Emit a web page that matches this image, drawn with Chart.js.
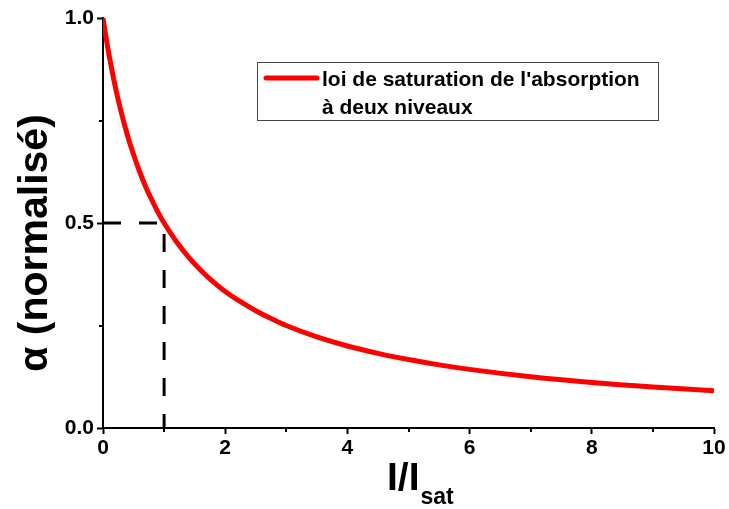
<!DOCTYPE html>
<html>
<head>
<meta charset="utf-8">
<script src="https://cdn.jsdelivr.net/npm/chart.js@4"></script>
<style>
  html, body { margin: 0; padding: 0; background: #fff; }
  #wrap { width: 729px; height: 509px; }
</style>
</head>
<body>
<div id="wrap"><canvas id="chart"></canvas></div>
<script>
/* Saturation de l'absorption — alpha normalisé vs I/Isat */

const X_VALUES = [0, 0.05, 0.1, 0.15, 0.2, 0.3, 0.4, 0.5, 0.6, 0.7, 0.8, 0.9, 1, 1.2, 1.4, 1.6, 1.8, 2, 2.25, 2.5, 2.75, 3, 3.5, 4, 4.5, 5, 5.5, 6, 7, 8, 9, 10];
const ALPHA    = [1.000, 0.952, 0.909, 0.870, 0.833, 0.769, 0.714, 0.667, 0.625, 0.588, 0.556, 0.526, 0.500, 0.455, 0.417, 0.385, 0.357, 0.333, 0.308, 0.286, 0.267, 0.250, 0.222, 0.200, 0.182, 0.167, 0.154, 0.143, 0.125, 0.111, 0.100, 0.091];

// pointillés : repère à I = Isat, alpha = 0.5
const GUIDE_X = [0, 1, 1];
const GUIDE_Y = [0.5, 0.5, 0];

const X_MAJOR = [0, 2, 4, 6, 8, 10];
const X_MINOR = [1, 3, 5, 7, 9];
const Y_MAJOR = [0.0, 0.5, 1.0];
const Y_MINOR = [0.25, 0.75];

const LEGEND_LINES = ["loi de saturation de l'absorption", 'à deux niveaux'];
const Y_TITLE = 'α (normalisé)';
const X_TITLE_MAIN = 'I/I';
const X_TITLE_SUB = 'sat';

const FONT = '"Liberation Sans", Arial, sans-serif';

const minorTicks = {
  id: 'minorTicks',
  afterDraw(chart) {
    const { ctx, scales: { x, y } } = chart;
    ctx.save();
    ctx.strokeStyle = '#000';
    ctx.lineWidth = 2;
    X_MINOR.forEach(v => {
      const px = Math.round(x.getPixelForValue(v));
      ctx.beginPath(); ctx.moveTo(px, y.bottom); ctx.lineTo(px, y.bottom + 4); ctx.stroke();
    });
    Y_MINOR.forEach(v => {
      const py = Math.round(y.getPixelForValue(v));
      ctx.beginPath(); ctx.moveTo(x.left, py); ctx.lineTo(x.left - 4, py); ctx.stroke();
    });
    ctx.restore();
  }
};

const titles = {
  id: 'titles',
  afterDraw(chart) {
    const { ctx } = chart;
    ctx.save();
    ctx.fillStyle = '#000';

    // titre axe y (vertical)
    ctx.translate(47, 243);
    ctx.rotate(-Math.PI / 2);
    ctx.font = `bold 41px ${FONT}`;
    ctx.textAlign = 'center';
    ctx.textBaseline = 'alphabetic';
    ctx.fillText(Y_TITLE, 0, 0);
    ctx.setTransform(1, 0, 0, 1, 0, 0);

    // titre axe x avec indice
    ctx.textAlign = 'left';
    ctx.font = `bold 39px ${FONT}`;
    ctx.fillText(X_TITLE_MAIN, 387, 490);
    const w = ctx.measureText(X_TITLE_MAIN).width;
    ctx.font = `bold 23px ${FONT}`;
    ctx.fillText(X_TITLE_SUB, 387 + w + 1, 504);

    // légende
    const bx = 257, by = 62, bw = 401, bh = 58;
    ctx.fillStyle = '#fff';
    ctx.fillRect(bx, by, bw, bh);
    ctx.strokeStyle = '#444';
    ctx.lineWidth = 1;
    ctx.strokeRect(bx + 0.5, by + 0.5, bw, bh);
    ctx.strokeStyle = '#ff0000';
    ctx.lineWidth = 5;
    ctx.lineCap = 'round';
    ctx.beginPath(); ctx.moveTo(266, 78); ctx.lineTo(317, 78); ctx.stroke();
    ctx.fillStyle = '#000';
    ctx.font = `bold 21px ${FONT}`;
    ctx.fillText(LEGEND_LINES[0], 322, 86);
    ctx.fillText(LEGEND_LINES[1], 322, 114);
    ctx.restore();
  }
};

const tickFont = { family: FONT, size: 21, weight: 'bold' };

new Chart(document.getElementById('chart'), {
  type: 'line',
  data: {
    datasets: [
      {
        label: 'loi de saturation',
        data: X_VALUES.map((x, i) => ({ x, y: ALPHA[i] })),
        borderColor: '#ff0000',
        borderWidth: 5,
        pointRadius: 0,
        cubicInterpolationMode: 'monotone',
        fill: false,
      },
      {
        label: 'repère',
        data: GUIDE_X.map((x, i) => ({ x, y: GUIDE_Y[i] })),
        borderColor: '#000',
        borderWidth: 3,
        borderDash: [18, 18],
        pointRadius: 0,
        tension: 0,
        fill: false,
      },
    ],
  },
  options: {
    responsive: true,
    maintainAspectRatio: false,
    animation: false,
    layout: { padding: { left: 0, right: 15, top: 18, bottom: 0 } },
    plugins: { legend: { display: false }, tooltip: { enabled: false } },
    scales: {
      x: {
        type: 'linear',
        min: 0, max: 10,
        afterBuildTicks: s => { s.ticks = X_MAJOR.map(v => ({ value: v })); },
        afterFit: s => { s.height = 81; },
        ticks: { color: '#000', font: tickFont, padding: 2, maxRotation: 0, callback: v => String(v) },
        grid: { drawOnChartArea: false, tickLength: 6, tickColor: '#000', tickWidth: 2 },
        border: { color: '#000', width: 2 },
      },
      y: {
        type: 'linear',
        min: 0, max: 1,
        afterBuildTicks: s => { s.ticks = Y_MAJOR.map(v => ({ value: v })); },
        afterFit: s => { s.width = 103; },
        ticks: { color: '#000', font: tickFont, padding: 3, callback: v => Number(v).toFixed(1) },
        grid: { drawOnChartArea: false, tickLength: 6, tickColor: '#000', tickWidth: 2 },
        border: { color: '#000', width: 2 },
      },
    },
  },
  plugins: [minorTicks, titles],
});
</script>
</body>
</html>
